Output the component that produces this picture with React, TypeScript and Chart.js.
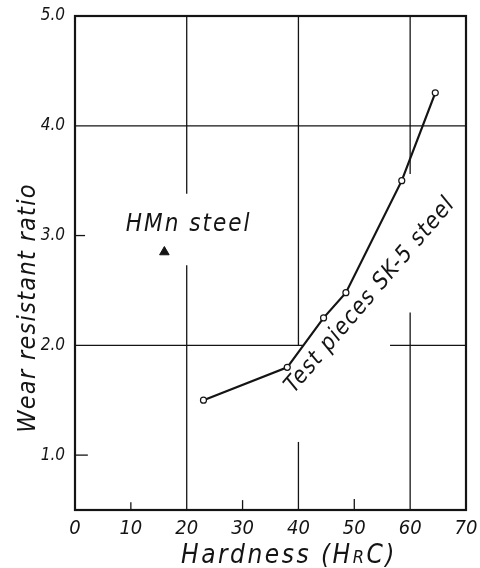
import React, { useEffect, useRef } from "react";
import { Chart, registerables } from "chart.js";

Chart.register(...registerables);

// Hardness (HRC) vs. wear resistant ratio for SK-5 test pieces
const sk5Hardness = [23, 38, 44.5, 48.5, 58.5, 64.5];
const sk5Ratio = [1.5, 1.8, 2.25, 2.48, 3.5, 4.3];

// High-manganese steel reference point
const hmnHardness = [16];
const hmnRatio = [2.85];

const xTickValues = [0, 10, 20, 30, 40, 50, 60, 70];
const yTickValues = [1.0, 2.0, 3.0, 4.0, 5.0];

// Hand-drawn grid: segments in data units (lines are broken where labels/curve pass)
const vGridSegments = [
  { x: 20, from: 5.0, to: 3.38 },
  { x: 20, from: 2.73, to: 0.5 },
  { x: 40, from: 5.0, to: 2.0 },
  { x: 40, from: 1.12, to: 0.5 },
  { x: 60, from: 5.0, to: 3.56 },
  { x: 60, from: 2.3, to: 0.5 },
  { x: 10, from: 0.5, to: 0.57 },
  { x: 30, from: 0.5, to: 0.59 },
  { x: 50, from: 0.5, to: 0.6 },
];
const hGridSegments = [
  { y: 4.0, from: 0, to: 70 },
  { y: 2.0, from: 0, to: 40.8 },
  { y: 2.0, from: 56.4, to: 70 },
  { y: 3.0, from: 0, to: 1.8 },
  { y: 1.0, from: 0, to: 2.3 },
];

const HAND = '"Liberation Sans Narrow", "DejaVu Sans Condensed", "Liberation Sans", sans-serif';
const INK = "#141414";

const handPlugin = {
  id: "handDrawn",
  beforeDraw(chart: any) {
    const { ctx, width, height } = chart;
    ctx.save();
    ctx.fillStyle = "#ffffff";
    ctx.fillRect(0, 0, width, height);
    ctx.restore();
  },
  beforeDatasetsDraw(chart: any) {
    const { ctx, chartArea: a, scales } = chart;
    const xs = scales.x;
    const ys = scales.y;
    ctx.save();
    ctx.strokeStyle = INK;
    ctx.lineCap = "butt";
    ctx.lineWidth = 1.3;
    for (const s of vGridSegments) {
      const px = xs.getPixelForValue(s.x);
      ctx.beginPath();
      ctx.moveTo(px, ys.getPixelForValue(s.from));
      ctx.lineTo(px, ys.getPixelForValue(s.to));
      ctx.stroke();
    }
    for (const s of hGridSegments) {
      const py = ys.getPixelForValue(s.y);
      ctx.beginPath();
      ctx.moveTo(xs.getPixelForValue(s.from), py);
      ctx.lineTo(xs.getPixelForValue(s.to), py);
      ctx.stroke();
    }
    // frame
    ctx.lineWidth = 2.2;
    ctx.strokeRect(a.left, a.top, a.right - a.left, a.bottom - a.top);
    ctx.restore();
  },
  afterDraw(chart: any) {
    const { ctx, scales } = chart;
    const xs = scales.x;
    const ys = scales.y;
    ctx.save();
    ctx.fillStyle = INK;
    ctx.textBaseline = "alphabetic";
    ctx.textAlign = "left";

    // HMn steel label
    ctx.font = `italic 24px ${HAND}`;
    (ctx as any).letterSpacing = "2px";
    ctx.fillText("HMn steel", xs.getPixelForValue(9.1), ys.getPixelForValue(3.04));

    // label along the SK-5 curve
    ctx.save();
    ctx.translate(xs.getPixelForValue(39.2), ys.getPixelForValue(1.56));
    ctx.rotate((-49.5 * Math.PI) / 180);
    ctx.font = `italic 23px ${HAND}`;
    (ctx as any).letterSpacing = "1.2px";
    ctx.fillText("Test pieces SK-5 steel", 0, 0);
    ctx.restore();

    // y axis title
    ctx.save();
    ctx.translate(35, 308);
    ctx.rotate(-Math.PI / 2);
    ctx.font = `italic 25px ${HAND}`;
    (ctx as any).letterSpacing = "1.3px";
    ctx.textAlign = "center";
    ctx.fillText("Wear resistant ratio", 0, 0);
    ctx.restore();

    // x axis title with small R
    const big = `italic 26px ${HAND}`;
    const small = `italic 18px ${HAND}`;
    (ctx as any).letterSpacing = "2.5px";
    const p1 = "Hardness (H";
    const p2 = "R";
    const p3 = "C)";
    ctx.font = big;
    const w1 = ctx.measureText(p1).width;
    const w3 = ctx.measureText(p3).width;
    ctx.font = small;
    const w2 = ctx.measureText(p2).width;
    const total = w1 + w2 + w3;
    let x = 289 - total / 2;
    const y = 563;
    ctx.font = big;
    ctx.fillText(p1, x, y);
    x += w1;
    ctx.font = small;
    ctx.fillText(p2, x, y);
    x += w2;
    ctx.font = big;
    ctx.fillText(p3, x, y);
    ctx.restore();
  },
};

export default function App() {
  const ref = useRef<HTMLCanvasElement | null>(null);

  useEffect(() => {
    if (!ref.current) return;
    const chart = new Chart(ref.current, {
      type: "scatter",
      data: {
        datasets: [
          {
            label: "SK-5",
            data: sk5Hardness.map((h, i) => ({ x: h, y: sk5Ratio[i] })),
            showLine: true,
            borderColor: INK,
            borderWidth: 2.2,
            pointRadius: 3,
            pointBorderWidth: 1.2,
            pointBackgroundColor: "#ffffff",
            pointBorderColor: INK,
          },
          {
            label: "HMn",
            data: hmnHardness.map((h, i) => ({ x: h, y: hmnRatio[i] })),
            showLine: false,
            pointStyle: "triangle",
            pointRadius: 5.5,
            pointBackgroundColor: INK,
            pointBorderColor: INK,
            pointBorderWidth: 1,
          },
        ],
      },
      options: {
        responsive: false,
        animation: false,
        events: [],
        layout: { padding: { left: 0, top: 16, right: 14, bottom: 0 } },
        plugins: { legend: { display: false }, tooltip: { enabled: false } },
        scales: {
          x: {
            type: "linear",
            min: 0,
            max: 70,
            afterBuildTicks: (scale: any) => {
              scale.ticks = xTickValues.map((v) => ({ value: v }));
            },
            afterFit: (scale: any) => {
              scale.height = 58;
              scale.paddingLeft = 0;
              scale.paddingRight = 0;
            },
            grid: { display: false, drawTicks: false },
            border: { display: false },
            ticks: {
              padding: 7,
              color: INK,
              maxRotation: 0,
              font: { family: HAND, size: 20, style: "italic" },
              callback: (v: any) => String(v),
            },
          },
          y: {
            type: "linear",
            min: 0.5,
            max: 5.0,
            afterBuildTicks: (scale: any) => {
              scale.ticks = yTickValues.map((v) => ({ value: v }));
            },
            afterFit: (scale: any) => {
              scale.width = 75;
              scale.paddingTop = 0;
              scale.paddingBottom = 0;
            },
            grid: { display: false, drawTicks: false },
            border: { display: false },
            ticks: {
              padding: 10,
              color: INK,
              font: { family: HAND, size: 17, style: "italic" },
              callback: (v: any) => Number(v).toFixed(1),
            },
          },
        },
      },
      plugins: [handPlugin],
    });
    return () => chart.destroy();
  }, []);

  return (
    <div style={{ position: "fixed", left: 0, top: 0, width: 480, height: 568, background: "#fff" }}>
      <canvas ref={ref} width={480} height={568} style={{ display: "block" }} />
    </div>
  );
}
